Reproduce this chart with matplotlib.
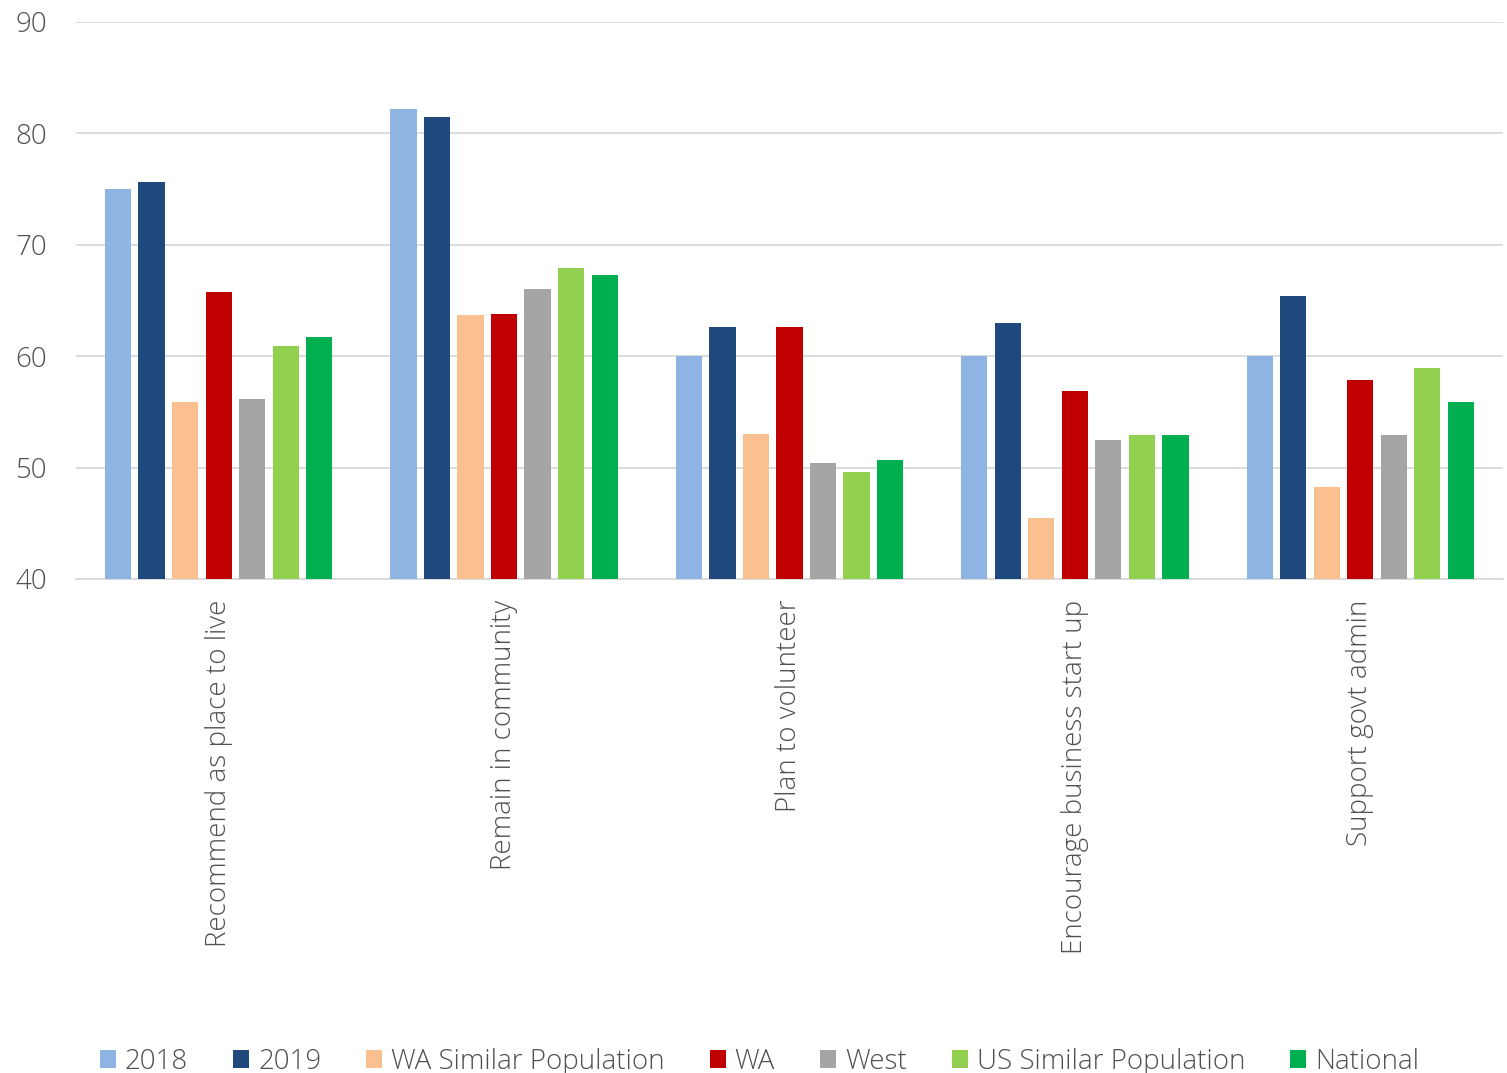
import numpy as np
import matplotlib.pyplot as plt

plt.rcParams['font.family'] = ['Open Sans', 'DejaVu Sans']
plt.rcParams['font.weight'] = 'light'

# Categorias y series
categorias = ['Recommend as place to live', 'Remain in community', 'Plan to volunteer',
              'Encourage business start up', 'Support govt admin']
series = ['2018', '2019', 'WA Similar Population', 'WA', 'West',
          'US Similar Population', 'National']
v2018 = [75.0, 82.2, 60.0, 60.0, 60.0]
v2019 = [75.6, 81.5, 62.6, 63.0, 65.4]
wa_similar = [55.9, 63.7, 53.0, 45.5, 48.3]
wa = [65.8, 63.8, 62.6, 56.9, 57.9]
west = [56.2, 66.0, 50.4, 52.5, 52.9]
us_similar = [60.9, 67.9, 49.6, 52.9, 58.9]
national = [61.7, 67.3, 50.7, 52.9, 55.9]
colores = ['#8DB4E2', '#1F497D', '#FAC090', '#C00000', '#A5A5A5', '#92D050', '#00B050']

valores = [v2018, v2019, wa_similar, wa, west, us_similar, national]
gris = '#505050'
tam = 20

fig = plt.figure(figsize=(15.07, 10.73), dpi=100)
ax = fig.add_axes([0.0504, 0.4604, 0.9469, 0.5191])

x = np.arange(len(categorias))
paso = 0.1175
ancho = 0.092
for i, (serie, vals, c) in enumerate(zip(series, valores, colores)):
    desplaz = (i - 3) * paso
    ax.bar(x + desplaz, np.array(vals) - 40, bottom=40, width=ancho, color=c,
           label=serie, zorder=3)

ax.set_xlim(-0.5, len(categorias) - 0.5)
ax.set_ylim(40, 90)
ax.set_yticks(range(40, 91, 10))
ax.grid(axis='y', color='#D9D9D9', linewidth=1.3, zorder=0)
for s in ['top', 'right', 'left']:
    ax.spines[s].set_visible(False)
ax.spines['bottom'].set_color('#D9D9D9')
ax.spines['bottom'].set_linewidth(1.3)
ax.tick_params(axis='both', length=0, labelsize=tam, colors=gris)
ax.tick_params(axis='y', pad=21)
ax.set_xticks(x)
ax.set_xticklabels(categorias, rotation=90, va='top', ha='center')
ax.tick_params(axis='x', pad=15)

fig.legend(loc='lower center', bbox_to_anchor=(0.504, -0.026), ncol=7, frameon=False,
           fontsize=tam, labelcolor=gris, handlelength=0.58, handleheight=0.58,
           handletextpad=0.32, columnspacing=1.62)

fig.savefig('out.png', dpi=100)
